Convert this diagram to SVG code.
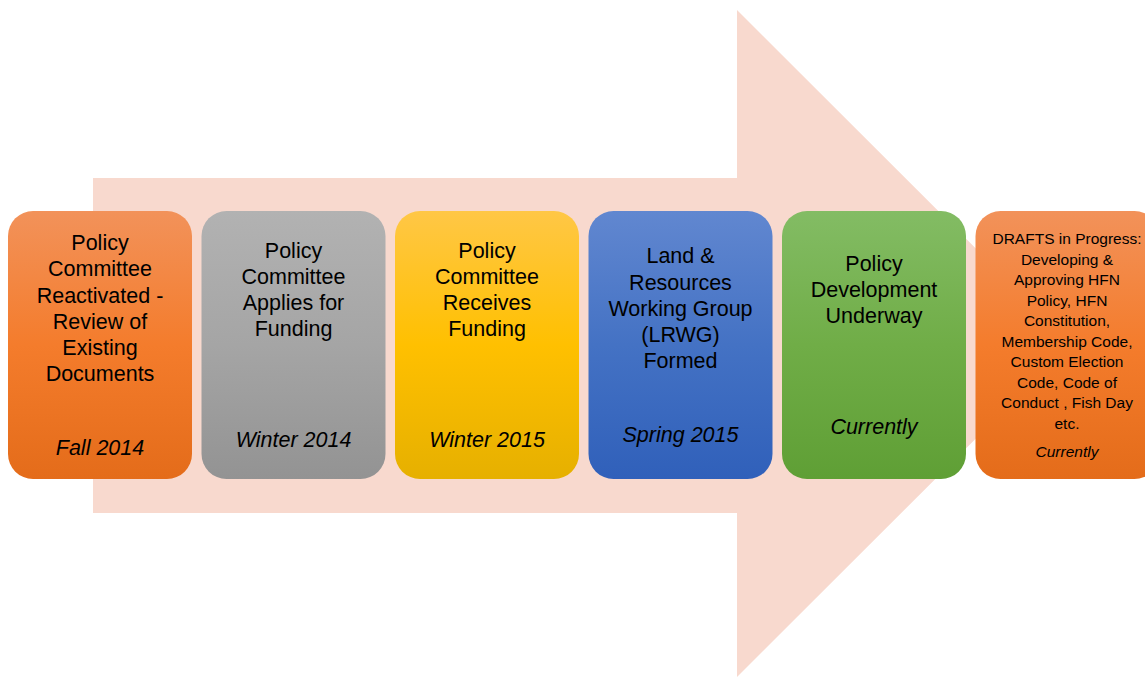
<svg xmlns="http://www.w3.org/2000/svg" width="1145" height="677" viewBox="0 0 1145 677">
<defs>
<linearGradient id="gOrange" x1="0" y1="0" x2="0" y2="1"><stop offset="0" stop-color="#F2925A"/><stop offset="0.5" stop-color="#F47C2C"/><stop offset="1" stop-color="#E46C1A"/></linearGradient>
<linearGradient id="gGray" x1="0" y1="0" x2="0" y2="1"><stop offset="0" stop-color="#B2B2B2"/><stop offset="0.5" stop-color="#A5A5A5"/><stop offset="1" stop-color="#939393"/></linearGradient>
<linearGradient id="gYellow" x1="0" y1="0" x2="0" y2="1"><stop offset="0" stop-color="#FFC746"/><stop offset="0.5" stop-color="#FFC000"/><stop offset="1" stop-color="#E6B000"/></linearGradient>
<linearGradient id="gBlue" x1="0" y1="0" x2="0" y2="1"><stop offset="0" stop-color="#6187D0"/><stop offset="0.5" stop-color="#4472C4"/><stop offset="1" stop-color="#3060BA"/></linearGradient>
<linearGradient id="gGreen" x1="0" y1="0" x2="0" y2="1"><stop offset="0" stop-color="#83BC64"/><stop offset="0.5" stop-color="#70AD47"/><stop offset="1" stop-color="#5F9F35"/></linearGradient>
</defs>
<style>
.t{font-family:"Liberation Sans",Arial,sans-serif;font-size:21.5px;fill:#000;text-anchor:middle}
.d{font-style:italic}
.s{font-size:15.5px}
</style>
<rect width="1145" height="677" fill="#fff"/>
<g id="arrow"><polygon points="93,178 737,178 737,10 1071,343.5 737,677 737,513 93,513" fill="#F8D9CE"/></g>
<g id="node1"><rect x="8" y="211" width="184" height="268" rx="25" fill="url(#gOrange)"/>
<text class="t" x="100" y="250">Policy</text><text class="t" x="100" y="276">Committee</text><text class="t" x="100" y="302.5">Reactivated -</text><text class="t" x="100" y="329">Review of</text><text class="t" x="100" y="355">Existing</text><text class="t" x="100" y="381">Documents</text>
<text class="t d" x="100" y="455">Fall 2014</text></g>
<g id="node2"><rect x="201.5" y="211" width="184" height="268" rx="25" fill="url(#gGray)"/>
<text class="t" x="293.5" y="258">Policy</text><text class="t" x="293.5" y="284">Committee</text><text class="t" x="293.5" y="310">Applies for</text><text class="t" x="293.5" y="336">Funding</text>
<text class="t d" x="293.5" y="447">Winter 2014</text></g>
<g id="node3"><rect x="395" y="211" width="184" height="268" rx="25" fill="url(#gYellow)"/>
<text class="t" x="487" y="258">Policy</text><text class="t" x="487" y="284">Committee</text><text class="t" x="487" y="310">Receives</text><text class="t" x="487" y="336">Funding</text>
<text class="t d" x="487" y="447">Winter 2015</text></g>
<g id="node4"><rect x="588.5" y="211" width="184" height="268" rx="25" fill="url(#gBlue)"/>
<text class="t" x="680.5" y="263">Land &amp;</text><text class="t" x="680.5" y="290">Resources</text><text class="t" x="680.5" y="316">Working Group</text><text class="t" x="680.5" y="342">(LRWG)</text><text class="t" x="680.5" y="368">Formed</text>
<text class="t d" x="680.5" y="442">Spring 2015</text></g>
<g id="node5"><rect x="782" y="211" width="184" height="268" rx="25" fill="url(#gGreen)"/>
<text class="t" x="874" y="271">Policy</text><text class="t" x="874" y="297">Development</text><text class="t" x="874" y="323">Underway</text>
<text class="t d" x="874" y="434">Currently</text></g>
<g id="node6"><rect x="975.5" y="211" width="184" height="268" rx="25" fill="url(#gOrange)"/>
<text class="t s" x="1067" y="244">DRAFTS in Progress:</text><text class="t s" x="1067" y="265">Developing &amp;</text><text class="t s" x="1067" y="285">Approving HFN</text><text class="t s" x="1067" y="306">Policy, HFN</text><text class="t s" x="1067" y="326">Constitution,</text><text class="t s" x="1067" y="347">Membership Code,</text><text class="t s" x="1067" y="367">Custom Election</text><text class="t s" x="1067" y="388">Code, Code of</text><text class="t s" x="1067" y="408">Conduct , Fish Day</text><text class="t s" x="1067" y="429">etc.</text>
<text class="t s d" x="1067" y="457">Currently</text></g>
<g id="connectors"></g>
</svg>
